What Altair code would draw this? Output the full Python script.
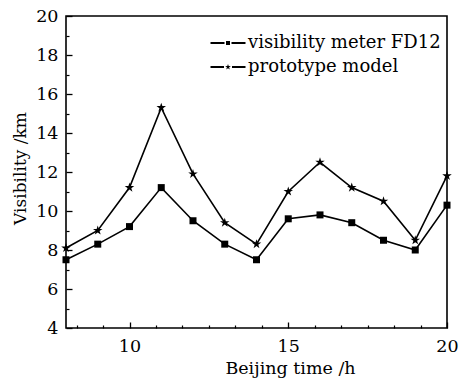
import altair as alt
import pandas as pd

hours = [8, 9, 10, 11, 12, 13, 14, 15, 16, 17, 18, 19, 20]
fd12 = [7.5, 8.3, 9.2, 11.2, 9.5, 8.3, 7.5, 9.6, 9.8, 9.4, 8.5, 8.0, 10.3]
proto = [8.1, 9.0, 11.2, 15.3, 11.9, 9.4, 8.3, 11.0, 12.5, 11.2, 10.5, 8.5, 11.8]
series_names = ["visibility meter FD12", "prototype model"]
x_major = [10, 15, 20]
x_minor = [8 + 1/3, 9 + 1/6, 10 + 5/6, 11 + 2/3, 12.5, 13 + 1/3, 14 + 1/6,
           15 + 5/6, 16 + 2/3, 17.5, 18 + 1/3, 19 + 1/6]
y_major = [4, 6, 8, 10, 12, 14, 16, 18, 20]
y_minor = [5, 7, 9, 11, 13, 15, 17, 19]

rows = []
for h, a, b in zip(hours, fd12, proto):
    rows.append({"hour": h, "vis": a, "series": series_names[0]})
    rows.append({"hour": h, "vis": b, "series": series_names[1]})
df = pd.DataFrame(rows)

FONT = "DejaVu Serif"
STAR = ("M0,-1L0.2245,-0.309L0.951,-0.309L0.363,0.118L0.588,0.809L0,0.382"
        "L-0.588,0.809L-0.363,0.118L-0.951,-0.309L-0.2245,-0.309Z")
LEG_SQ = ("M-3.5,-0.2H-0.7V0.2H-3.5Z M0.7,-0.2H3.5V0.2H0.7Z"
          "M-0.4,-0.4H0.4V0.4H-0.4Z")
LEG_STAR = ("M-3.5,-0.2H-0.8V0.2H-3.5Z M0.8,-0.2H3.5V0.2H0.8Z"
            "M0,-0.6L0.135,-0.185L0.571,-0.185L0.218,0.071L0.353,0.485L0,0.229"
            "L-0.353,0.485L-0.218,0.071L-0.571,-0.185L-0.135,-0.185Z")

xscale = alt.Scale(domain=[8, 20], nice=False, zero=False)
yscale = alt.Scale(domain=[4, 20], nice=False, zero=False)

# Axes are pulled inside the frame (negative offset) so that ticks point inward.
x_main = alt.X(
    "hour:Q", scale=xscale,
    axis=alt.Axis(
        values=x_major, format="d", orient="bottom", offset=-6,
        tickSize=6, tickColor="black", tickWidth=1.3, domain=False,
        grid=False, labelFont=FONT, labelFontSize=17.5, labelColor="black",
        labelPadding=9, labelOverlap=False, labelFlush=False,
        title="Beijing time /h", titleFont=FONT, titleFontSize=17.5,
        titleFontWeight="normal", titleColor="black",
        titleX=224, titleY=51, titleAlign="center", titleBaseline="alphabetic",
    ),
)
y_main = alt.Y(
    "vis:Q", scale=yscale,
    axis=alt.Axis(
        values=y_major, format="d", orient="left", offset=-6,
        tickSize=6, tickColor="black", tickWidth=1.3, domain=False,
        grid=False, labelFont=FONT, labelFontSize=17.5, labelColor="black",
        labelPadding=8, labelOverlap=False, labelFlush=False,
        title="Visibility /km", titleFont=FONT, titleFontSize=17,
        titleFontWeight="normal", titleColor="black", titleAngle=270,
        titleX=-47, titleY=152, titleAlign="center", titleBaseline="alphabetic",
    ),
)
x_min = alt.X(
    "hour:Q", scale=xscale,
    axis=alt.Axis(values=x_minor, orient="bottom", offset=-3, tickSize=3,
                  tickColor="black", tickWidth=1.2, labels=False, domain=False,
                  grid=False, title=None),
)
y_min = alt.Y(
    "vis:Q", scale=yscale,
    axis=alt.Axis(values=y_minor, orient="left", offset=-3, tickSize=3,
                  tickColor="black", tickWidth=1.2, labels=False, domain=False,
                  grid=False, title=None),
)

base = alt.Chart(df)
lines = base.mark_line(color="black", strokeWidth=1.6).encode(
    x=x_main, y=y_main, detail="series:N"
)
points = base.mark_point(filled=True, color="black", opacity=1).encode(
    x=x_main, y=y_main,
    shape=alt.Shape("series:N", scale=alt.Scale(domain=series_names, range=["square", STAR]), legend=None),
    size=alt.Size("series:N", scale=alt.Scale(domain=series_names, range=[49, 100]), legend=None),
)
legend_layer = base.mark_point(filled=True, color="black", opacity=0).encode(
    x=x_min, y=y_min,
    shape=alt.Shape(
        "series:N",
        scale=alt.Scale(domain=series_names, range=[LEG_SQ, LEG_STAR]),
        legend=alt.Legend(
            title=None, orient="none", legendX=153, legendY=18,
            symbolSize=100, symbolOpacity=1, symbolFillColor="black",
            labelFont=FONT, labelFontSize=18, labelColor="black",
            labelOffset=11, rowPadding=6, labelLimit=400,
        ),
    ),
)

main = alt.layer(lines, points).resolve_scale(shape="independent", size="independent")

chart = (
    alt.layer(main, legend_layer)
    .resolve_scale(shape="independent")
    .resolve_axis(x="independent", y="independent")
    .properties(
        width=381, height=312,
        autosize=alt.AutoSizeParams(type="none"),
        padding={"left": 58, "top": 8, "right": 21, "bottom": 53},
        background="white",
    )
    .configure_view(stroke="black", strokeWidth=1.6)
)

chart.save("out.html", embed_options={"renderer": "svg", "actions": False})
